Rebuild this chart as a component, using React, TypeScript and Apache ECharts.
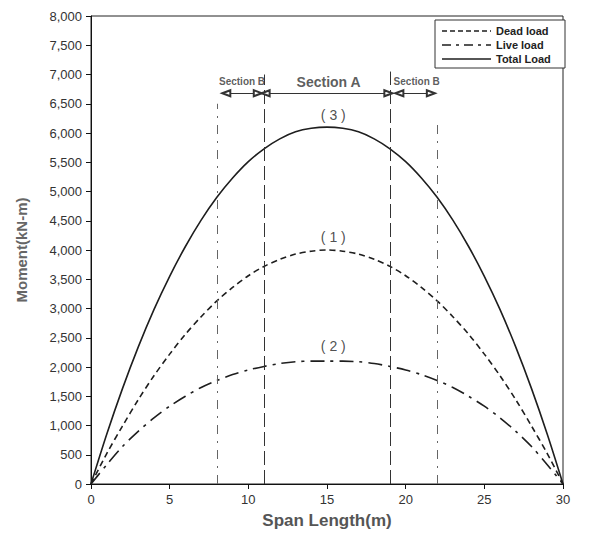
import React, { useEffect, useRef } from "react";
import * as echarts from "echarts";

// Span positions (m)
const spanX = [
  0, 1, 2, 3, 4, 5, 6, 7, 8, 9, 10, 11, 12, 13, 14, 15,
  16, 17, 18, 19, 20, 21, 22, 23, 24, 25, 26, 27, 28, 29, 30,
];

// Moments (kN-m) along the span
const deadLoad = [
  0, 520, 990, 1440, 1850, 2220, 2560, 2860, 3130, 3360, 3560, 3720, 3840, 3930, 3980, 4000,
  3980, 3930, 3840, 3720, 3560, 3360, 3130, 2860, 2560, 2220, 1850, 1440, 990, 520, 0,
];
const liveLoad = [
  0, 330, 640, 900, 1130, 1330, 1500, 1650, 1770, 1870, 1950, 2010, 2060, 2090, 2100, 2100,
  2100, 2090, 2060, 2010, 1950, 1870, 1770, 1650, 1500, 1330, 1130, 900, 640, 330, 0,
];
const totalLoad = [
  0, 850, 1630, 2340, 2980, 3550, 4060, 4510, 4900, 5230, 5510, 5730, 5900, 6020, 6080, 6100,
  6080, 6020, 5900, 5730, 5510, 5230, 4900, 4510, 4060, 3550, 2980, 2340, 1630, 850, 0,
];

// Section boundaries: [x, top of the guide line]
const outerBounds = [
  [8, 6500],
  [22, 6250],
];
const innerBounds = [
  [11, 7000],
  [19, 7050],
];

// Section arrows: [from, to, level]
const sectionArrows = [
  [8.6, 10.6, 6680],
  [11.1, 18.9, 6680],
  [19.6, 21.6, 6680],
];
const sectionNames = ["Section B", "Section A", "Section B"];
const sectionNameX = [9.6, 15.1, 20.7];
const sectionNameY = [6880, 6880, 6880];

// Curve tags
const curveTags = ["( 3 )", "( 1 )", "( 2 )"];
const curveTagX = [15.4, 15.4, 15.4];
const curveTagY = [6300, 4230, 2360];

const seriesNames = ["Dead load", "Live load", "Total Load"];
const seriesDash: (number[] | null)[] = [[6, 4], [14, 6, 3, 6], null];
const legendDash: (number[] | null)[] = [[5, 3], [9, 5, 3, 5], null];

const pairs = (ys: number[]) => spanX.map((x, i) => [x, ys[i]]);

export default function App() {
  const ref = useRef<HTMLDivElement>(null);

  useEffect(() => {
    if (!ref.current) return;
    const chart = echarts.init(ref.current, null, { renderer: "svg" });
    const ink = "#1e1e1e";
    const font = "Liberation Sans, Arial, sans-serif";

    // Hand-drawn legend box in the top-right corner of the plot
    const legendX = 435;
    const legendY = 20;
    const legendRow = 14;
    const legendGraphics: any[] = [
      {
        type: "rect",
        shape: { x: legendX, y: legendY, width: 130, height: 48 },
        style: { fill: "#fff", stroke: "#333", lineWidth: 1 },
        z: 10,
      },
    ];
    seriesNames.forEach((name, i) => {
      const y = legendY + 11 + i * legendRow;
      legendGraphics.push({
        type: "line",
        shape: { x1: legendX + 7, y1: y, x2: legendX + 56, y2: y },
        style: { stroke: ink, lineWidth: 1.6, lineDash: legendDash[i] },
        z: 11,
      });
      legendGraphics.push({
        type: "text",
        x: legendX + 61,
        y,
        style: {
          text: name,
          fontSize: 11,
          fontWeight: "bold",
          fill: "#222",
          fontFamily: font,
          verticalAlign: "middle",
        },
        z: 11,
      });
    });

    chart.setOption({
      animation: false,
      backgroundColor: "#ffffff",
      textStyle: { fontFamily: font },
      grid: {
        left: 91,
        right: 33,
        top: 16,
        bottom: 50,
        outerBoundsMode: "none",
        containLabel: false,
        show: true,
        borderColor: "#222",
        borderWidth: 1,
        backgroundColor: "transparent",
      },
      graphic: legendGraphics,
      xAxis: {
        type: "value",
        min: 0,
        max: 30,
        interval: 5,
        name: "Span Length(m)",
        nameLocation: "middle",
        nameGap: 28,
        nameTextStyle: { fontSize: 17, fontWeight: "bold", color: "#555", fontFamily: font },
        axisLine: { lineStyle: { color: "#111", width: 1 } },
        axisTick: { length: 5, lineStyle: { color: "#111" } },
        axisLabel: { fontSize: 13, color: "#333", margin: 9 },
        splitLine: { show: false },
      },
      yAxis: {
        type: "value",
        min: 0,
        max: 8000,
        interval: 500,
        name: "Moment(kN-m)",
        nameLocation: "middle",
        nameGap: 62,
        nameTextStyle: { fontSize: 15, fontWeight: "bold", color: "#666", fontFamily: font },
        axisLine: { show: true, lineStyle: { color: "#111", width: 1 } },
        axisTick: { show: true, length: 5, lineStyle: { color: "#111" } },
        axisLabel: {
          fontSize: 13,
          color: "#333",
          margin: 9,
          formatter: (v: number) => v.toLocaleString("en-US"),
        },
        splitLine: { show: false },
      },
      series: [
        {
          name: "Dead load",
          type: "line",
          data: pairs(deadLoad),
          smooth: 0.3,
          symbol: "none",
          lineStyle: { color: ink, width: 1.6, type: seriesDash[0] },
        },
        {
          name: "Live load",
          type: "line",
          data: pairs(liveLoad),
          smooth: 0.3,
          symbol: "none",
          lineStyle: { color: ink, width: 1.6, type: seriesDash[1] },
        },
        {
          name: "Total Load",
          type: "line",
          data: pairs(totalLoad),
          smooth: 0.3,
          symbol: "none",
          lineStyle: { color: ink, width: 1.6 },
        },
        {
          name: "sections",
          type: "line",
          data: [],
          symbol: "none",
          silent: true,
          markLine: {
            silent: true,
            animation: false,
            label: { show: false },
            data: [
              ...outerBounds.map(([x, top]) => [
                {
                  coord: [x, 0],
                  symbol: "none",
                  lineStyle: { color: "#666", width: 1, type: [9, 7, 2, 7] },
                },
                { coord: [x, top], symbol: "none" },
              ]),
              ...innerBounds.map(([x, top]) => [
                {
                  coord: [x, 0],
                  symbol: "none",
                  lineStyle: { color: "#333", width: 1, type: [14, 5] },
                },
                { coord: [x, top], symbol: "none" },
              ]),
              ...sectionArrows.map(([a, b, lvl]) => [
                {
                  coord: [a, lvl],
                  symbol: "emptyTriangle",
                  symbolSize: [6, 8],
                  lineStyle: { color: "#333", width: 1, type: "solid" },
                },
                { coord: [b, lvl], symbol: "emptyTriangle", symbolSize: [6, 8] },
              ]),
            ],
          },
        },
        {
          name: "section names",
          type: "scatter",
          symbolSize: 0,
          silent: true,
          data: sectionNames.map((n, i) => ({
            value: [sectionNameX[i], sectionNameY[i]],
            label: {
              show: true,
              position: "inside",
              formatter: n,
              fontSize: n === "Section A" ? 14 : 10,
              fontWeight: "bold",
              color: "#333",
              fontFamily: font,
            },
          })),
        },
        {
          name: "curve tags",
          type: "scatter",
          symbolSize: 0,
          silent: true,
          data: curveTags.map((t, i) => ({
            value: [curveTagX[i], curveTagY[i]],
            label: {
              show: true,
              position: "inside",
              formatter: t,
              fontSize: 14,
              color: "#222",
              fontFamily: font,
            },
          })),
        },
      ],
    });

    return () => chart.dispose();
  }, []);

  return (
    <div
      ref={ref}
      style={{ position: "absolute", left: 0, top: 0, width: 596, height: 534 }}
    />
  );
}
